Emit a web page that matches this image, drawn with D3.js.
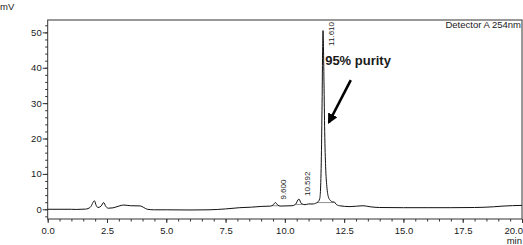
<!DOCTYPE html>
<html>
<head>
<meta charset="utf-8">
<script src="https://cdn.jsdelivr.net/npm/d3@7"></script>
<style>
  body { margin: 0; background: #fff; }
  svg { display: block; }
  text { font-family: "Liberation Sans", Arial, sans-serif; fill: #1a1a1a; }
</style>
</head>
<body>
<div id="container"></div>
<script>
let w = 523;
let h = 245;

// chromatogram trace (min, mV)
let times = [0.0, 1.0, 1.2, 1.6, 1.8, 1.97, 2.05, 2.12, 2.25, 2.36, 2.45, 2.56, 2.75, 3.0, 3.2, 3.5, 3.9, 4.05, 4.2, 4.5,
  5.0, 6.0, 6.8, 7.5, 8.1, 8.6, 9.0, 9.4, 9.52, 9.6, 9.7, 9.8, 10.3, 10.45, 10.592, 10.7, 10.85, 11.0, 11.2, 11.3,
  11.4, 11.47, 11.5, 11.54, 11.57, 11.595, 11.61, 11.625, 11.65, 11.68, 11.72, 11.77, 11.84, 11.92, 12.0, 12.1, 12.15, 12.3,
  12.75, 13.3, 13.6, 14.0, 15.0, 16.0, 17.0, 18.0, 18.8, 19.2, 20.0];
let signal = [0.0, 0.0, -0.05, 0.05, 0.6, 2.4, 1.0, 0.5, 0.9, 1.9, 0.8, 0.3, 0.4, 0.9, 1.2, 1.0, 0.95, 0.5, 0.0, -0.15,
  -0.15, -0.2, -0.15, 0.1, 0.45, 0.6, 0.8, 0.9, 1.3, 1.9, 1.2, 0.9, 1.0, 1.4, 2.9, 1.6, 1.3, 1.5, 1.5, 1.7,
  2.1, 3.0, 5, 15, 30, 46, 50.5, 47, 36, 22, 12, 6.5, 3.4, 2.5, 2.1, 2.0, 1.5, 1.0,
  0.75, 1.0, 0.7, 0.5, 0.45, 0.45, 0.45, 0.5, 0.7, 0.9, 1.1];

// labelled peaks
let peakRT = [9.600, 10.592, 11.610];
let peakHeight = [1.9, 2.9, 50.5];
let peakLabels = ["9.600", "10.592", "11.610"];

// integration baselines under the peaks [t0, y0, t1, y1]
let baseLines = [[9.45, 1.0, 9.75, 1.0], [10.45, 1.3, 10.75, 1.4], [11.38, 1.9, 12.05, 1.9]];

let xTicks = [0, 2.5, 5, 7.5, 10, 12.5, 15, 17.5, 20];
let yTicks = [0, 10, 20, 30, 40, 50];

let viz = d3.select("#container").append("svg")
    .attr("width", w)
    .attr("height", h)
;

let xScale = d3.scaleLinear().domain([0, 20]).range([47.7, 522]);
let yScale = d3.scaleLinear().domain([-2.75, 53.5]).range([219, 20]);

// frame
viz.append("rect")
    .attr("x", 47.7).attr("y", 20)
    .attr("width", 522 - 47.7).attr("height", 199)
    .attr("fill", "none").attr("stroke", "#333").attr("stroke-width", 1)
;

// x axis
let xAxis = d3.axisBottom(xScale).tickValues(xTicks).tickFormat(d3.format(".1f")).tickSize(4).tickPadding(4);
let xAxisGroup = viz.append("g")
    .attr("class", "xaxisgroup")
    .attr("transform", "translate(0,219)")
    .call(xAxis)
;
let xMinor = d3.axisBottom(xScale).tickValues(d3.range(0, 20.01, 0.5)).tickFormat("").tickSize(2.5);
viz.append("g").attr("transform", "translate(0,219)").call(xMinor);

// y axis
let yAxis = d3.axisLeft(yScale).tickValues(yTicks).tickSize(5).tickPadding(1);
let yAxisGroup = viz.append("g")
    .attr("class", "yaxisgroup")
    .attr("transform", "translate(47.7,0)")
    .call(yAxis)
;
let yMinor = d3.axisLeft(yScale).tickValues(d3.range(-2, 53, 2)).tickFormat("").tickSize(2.5);
viz.append("g").attr("transform", "translate(47.7,0)").call(yMinor);

viz.selectAll(".domain").attr("display", "none");
viz.selectAll(".tick line").attr("stroke", "#333");
viz.selectAll(".tick text").style("font-size", "9.5px").attr("fill", "#1a1a1a");
xAxisGroup.selectAll(".tick text").filter(d => d == 20).attr("text-anchor", "end").attr("dx", "0.5");

// trace
let trace = times.map((t, i) => ({t: t, v: signal[i]}));
let line = d3.line().x(d => xScale(d.t)).y(d => yScale(d.v)).curve(d3.curveMonotoneX);

viz.append("g").selectAll("line").data(baseLines).enter()
  .append("line")
    .attr("x1", d => xScale(d[0])).attr("y1", d => yScale(d[1]))
    .attr("x2", d => xScale(d[2])).attr("y2", d => yScale(d[3]))
    .attr("stroke", "#777").attr("stroke-width", 0.8)
;

viz.append("path")
    .datum(trace)
    .attr("d", line)
    .attr("fill", "none")
    .attr("stroke", "#111")
    .attr("stroke-width", 1)
;

// peak labels, rotated
let plotTop = yScale.range()[1];
viz.append("g").selectAll("text").data(peakRT).enter()
  .append("text")
    .text((d, i) => peakLabels[i])
    .style("font-size", "8px")
    .attr("transform", function(d, i){
      let len = this.getComputedTextLength();
      let yb = Math.max(yScale(peakHeight[i]) - 3, plotTop + 2 + len);
      return "translate(" + (xScale(d) + 11) + "," + yb + ") rotate(-90)";
    })
;

// annotation
viz.append("defs").append("marker")
    .attr("id", "head")
    .attr("viewBox", "0 0 10 10")
    .attr("refX", 8).attr("refY", 5)
    .attr("markerWidth", 4).attr("markerHeight", 4)
    .attr("orient", "auto")
  .append("path").attr("d", "M0,0 L10,5 L0,10 z").attr("fill", "#000");

viz.append("line")
    .attr("x1", xScale(12.78)).attr("y1", yScale(36.5))
    .attr("x2", xScale(11.86)).attr("y2", yScale(24.6))
    .attr("stroke", "#000").attr("stroke-width", 2.6)
    .attr("marker-end", "url(#head)")
;

viz.append("text")
    .attr("x", xScale(11.7)).attr("y", 65)
    .style("font-size", "13px").style("font-weight", "bold")
    .text("95% purity")
;

viz.append("text")
    .attr("x", 521).attr("y", 28)
    .attr("text-anchor", "end")
    .style("font-size", "9.5px")
    .text("Detector A 254nm")
;

viz.append("text").attr("x", 0).attr("y", 10).style("font-size", "9.5px").text("mV");
viz.append("text").attr("x", 522).attr("y", 244).attr("text-anchor", "end").style("font-size", "9.5px").text("min");
</script>
</body>
</html>
